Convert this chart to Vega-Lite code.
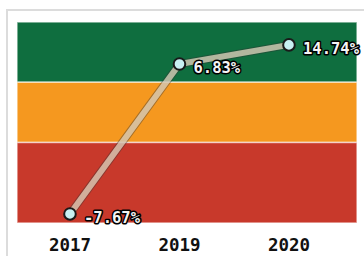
{
  "$schema": "https://vega.github.io/schema/vega-lite/v6.json",
  "width": 370,
  "height": 256,
  "autosize": {"type": "none"},
  "padding": {"left": 7, "top": 10, "right": 0, "bottom": 0},
  "background": "white",
  "config": {"view": {"stroke": "#dcdcdc", "strokeWidth": 2}},
  "datasets": {
    "bands": [
      {"lo": 70, "hi": 100, "band": "green"},
      {"lo": 40, "hi": 70, "band": "orange"},
      {"lo": 0, "hi": 40, "band": "red"}
    ],
    "points": [
      {"year": "2017", "score": 4.5, "label": "-7.67%"},
      {"year": "2019", "score": 79.1, "label": "6.83%"},
      {"year": "2020", "score": 88.6, "label": "14.74%"}
    ]
  },
  "layer": [
    {
      "data": {"name": "bands"},
      "mark": {"type": "rect", "stroke": "#ffffff", "strokeOpacity": 0.6, "strokeWidth": 1.5},
      "encoding": {
        "x": {"datum": 0, "type": "quantitative", "scale": {"domain": [-0.02941, 1.05882], "nice": false, "zero": false}, "axis": null},
        "x2": {"datum": 1},
        "y": {"field": "lo", "type": "quantitative", "scale": {"domain": [-21.39, 105.97], "nice": false, "zero": false}, "axis": null},
        "y2": {"field": "hi"},
        "color": {"field": "band", "type": "nominal", "scale": {"domain": ["green", "orange", "red"], "range": ["#0f6e3f", "#f5981f", "#c8392b"]}, "legend": null}
      }
    },
    {
      "data": {"name": "points"},
      "encoding": {
        "x": {"field": "year", "type": "ordinal", "scale": {"type": "point", "padding": 0.6895, "align": 0.417}, "axis": null}
      },
      "layer": [
        {
          "mark": {"type": "line", "color": "#333333", "strokeWidth": 8, "opacity": 0.4},
          "encoding": {"y": {"field": "score", "type": "quantitative", "scale": {"domain": [-21.39, 105.97], "nice": false, "zero": false}, "axis": null}}
        },
        {
          "mark": {"type": "line", "color": "#ecdcc6", "strokeWidth": 6, "opacity": 0.72},
          "encoding": {"y": {"field": "score", "type": "quantitative", "axis": null}}
        },
        {
          "mark": {"type": "point", "shape": "circle", "filled": true, "fill": "#c8f0f2", "stroke": "#1a1a1a", "strokeWidth": 2, "size": 135, "opacity": 1},
          "encoding": {"y": {"field": "score", "type": "quantitative", "axis": null}}
        },
        {
          "mark": {"type": "text", "align": "left", "baseline": "middle", "dx": 14, "dy": 4, "font": "DejaVu Sans Mono", "fontSize": 15.5, "fontWeight": "bold", "fill": "#000000", "stroke": "#000000", "strokeWidth": 3, "strokeJoin": "round"},
          "encoding": {"y": {"field": "score", "type": "quantitative", "axis": null}, "text": {"field": "label"}}
        },
        {
          "mark": {"type": "text", "align": "left", "baseline": "middle", "dx": 14, "dy": 4, "font": "DejaVu Sans Mono", "fontSize": 15.5, "fontWeight": "bold", "fill": "#f4f4f4"},
          "encoding": {"y": {"field": "score", "type": "quantitative", "axis": null}, "text": {"field": "label"}}
        },
        {
          "mark": {"type": "text", "align": "center", "baseline": "middle", "font": "DejaVu Sans Mono", "fontSize": 17.5, "fontWeight": "bold", "fill": "#111111"},
          "encoding": {"y": {"datum": -11.2, "type": "quantitative", "axis": null}, "text": {"field": "year"}}
        }
      ]
    }
  ],
  "resolve": {"scale": {"x": "independent"}}
}
